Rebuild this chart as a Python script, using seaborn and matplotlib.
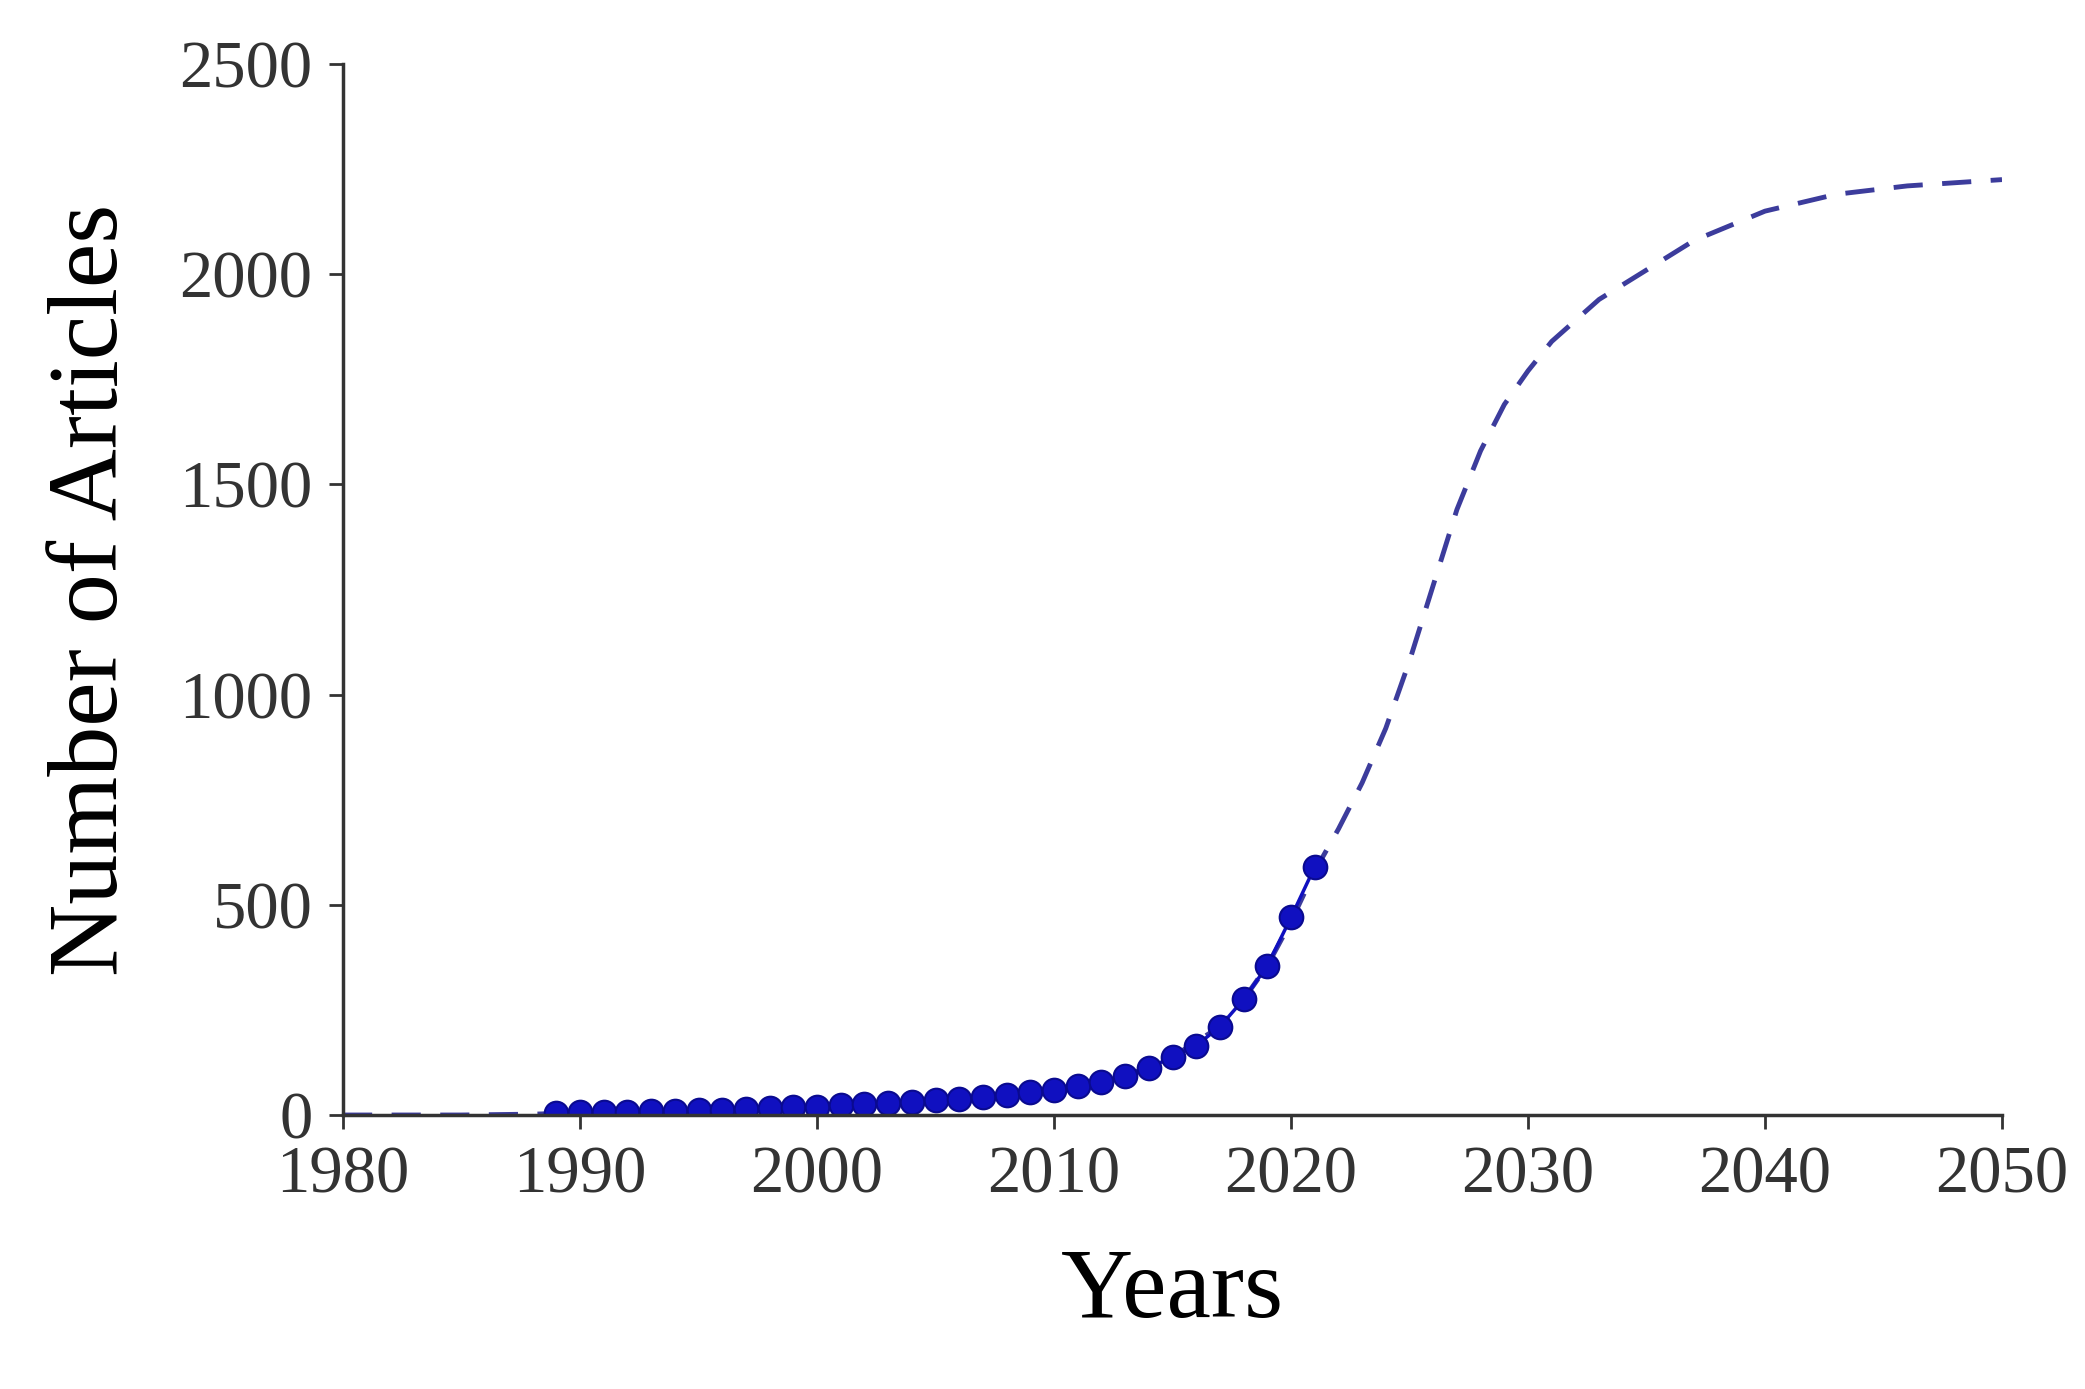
import matplotlib
matplotlib.use("Agg")
import matplotlib.pyplot as plt
import seaborn as sns
import pandas as pd

obs_years = list(range(1989, 2022))
obs_values = [5, 6, 7, 8, 9, 10, 11, 12, 14, 16, 18, 20, 23, 26, 29, 32, 35, 39, 43, 48, 54, 60, 68, 78, 92, 112, 138, 165, 210, 275, 355, 470, 590]

fit_years = [1980, 1985, 1988, 1990, 1995, 2000, 2005, 2010, 2013, 2015, 2017, 2018, 2019, 2020, 2021, 2022, 2023, 2024, 2025, 2026, 2027, 2028, 2029, 2030, 2031, 2032, 2033, 2035, 2037, 2040, 2043, 2046, 2050]
fit_values = [0, 0, 2, 5, 12, 22, 35, 60, 92, 138, 210, 275, 355, 460, 580, 680, 790, 920, 1080, 1260, 1440, 1580, 1690, 1770, 1840, 1890, 1940, 2010, 2080, 2150, 2190, 2210, 2225]

sns.set_style("ticks")
plt.rcParams['font.family'] = ['Liberation Serif', 'DejaVu Serif']

fig = plt.figure(figsize=(20.85, 13.89), dpi=100)
ax = fig.add_axes([343/2085, 1 - 1115/1389, (2002-343)/2085, (1115-64)/1389])

fit = pd.DataFrame({"Years": fit_years, "Articles": fit_values})
obs = pd.DataFrame({"Years": obs_years, "Articles": obs_values})
sns.lineplot(data=fit, x="Years", y="Articles", ax=ax, color="#3c3c9c", lw=3.5)
ax.lines[-1].set_linestyle((0, (6, 4)))
sns.lineplot(data=obs, x="Years", y="Articles", ax=ax, color="#1010c0", lw=2.5,
             marker="o", markersize=17, markeredgecolor="#0a0a90", markeredgewidth=1.5)

ax.set_xlim(1980, 2050)
ax.set_ylim(0, 2500)
ax.set_xticks(range(1980, 2051, 10))
ax.set_yticks(range(0, 2501, 500))
ax.tick_params(labelsize=48, length=10, width=2, colors="#333333", pad=12)
for s in ("left", "bottom"):
    ax.spines[s].set_linewidth(2.5)
    ax.spines[s].set_color("#333333")
sns.despine(ax=ax)
ax.set_xlabel("Years", fontsize=72, labelpad=30, color="black")
ax.set_ylabel("Number of Articles", fontsize=72, labelpad=30, color="black")

fig.savefig("out.png", dpi=100)
